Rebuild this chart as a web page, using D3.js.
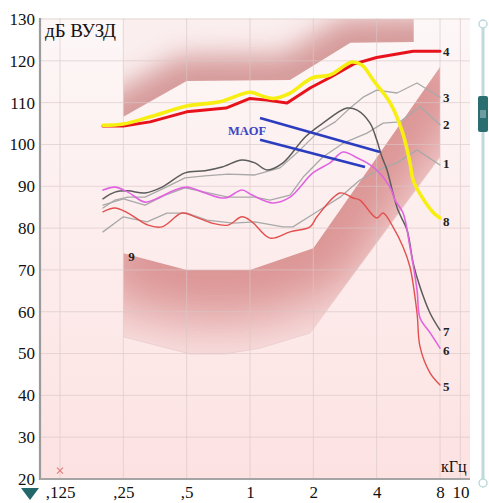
<!DOCTYPE html>
<html>
<head>
<meta charset="utf-8">
<script src="https://cdn.jsdelivr.net/npm/d3@7"></script>
<style>
  html, body { margin: 0; padding: 0; background: #fff; }
  svg { display: block; }
  text { font-family: "Liberation Serif", "Times New Roman", serif; }
</style>
</head>
<body>
<svg id="chart" width="489" height="503"></svg>
<script>
// ---- axis ticks ----
const yTicks = [20, 30, 40, 50, 60, 70, 80, 90, 100, 110, 120, 130];
const xTicks = [0.125, 0.25, 0.5, 1, 2, 4, 8, 10];
const xTickLabels = [",125", ",25", ",5", "1", "2", "4", "8", "10"];

// ---- shaded zones: [kHz, dB] ----
const upperZone = [[0.25, 130], [0.25, 106.6], [0.5, 115.2], [1.55, 115.4], [3.0, 124.3], [6.0, 124.5], [6.0, 130]];
const upperEdge = [[0.2, 104.0], [0.25, 106.6], [0.5, 115.2], [1.55, 115.4], [3.0, 124.3], [6.0, 124.5], [9, 124.5]];
const lowerZone = [[0.25, 74.0], [0.5, 70.0], [1.0, 70.0], [2.0, 75.2], [8, 118.5], [8, 97.0], [1.93, 54.9], [1.12, 51.3], [0.76, 49.9], [0.52, 49.9], [0.25, 54.0]];
const lowerEdge = [[0.2, 75.5], [0.25, 74.0], [0.5, 70.0], [1.0, 70.0], [2.0, 75.2], [8, 118.5], [9, 124]];

// ---- response curves: [kHz, dB] ----
const curve1 = [[0.2, 79.1], [0.25, 82.7], [0.324, 81.5], [0.403, 83.6], [0.502, 83.6], [0.625, 81.9], [0.83, 81.2], [1.056, 81.5], [1.435, 80.3], [1.6, 80.3], [2.08, 83.9], [2.68, 87.4], [3.33, 91.5], [4.29, 94.4], [5.0, 95.6], [6.22, 98.7], [8, 95.1]];
const curve2 = [[0.2, 85.5], [0.25, 87.0], [0.317, 85.5], [0.395, 87.9], [0.491, 89.6], [0.611, 88.6], [0.786, 87.4], [1.056, 87.4], [1.245, 86.7], [1.55, 87.9], [1.79, 92.2], [2.22, 97.0], [2.77, 100.3], [3.6, 102.7], [4.29, 105.1], [5.16, 105.4], [6.43, 109.0], [8, 104.7]];
const curve3 = [[0.2, 84.8], [0.228, 86.7], [0.263, 87.4], [0.317, 87.4], [0.382, 89.3], [0.491, 92.0], [0.611, 92.5], [0.786, 92.9], [1.056, 92.7], [1.389, 94.4], [1.73, 98.7], [2.11, 103.0], [2.54, 105.4], [2.99, 108.7], [3.45, 111.3], [4.0, 113.0], [5.0, 112.3], [6.22, 114.7], [8, 111.3]];
const curve4 = [[0.2, 104.4], [0.25, 104.4], [0.335, 105.4], [0.5, 107.8], [0.769, 108.7], [1.0, 111.0], [1.2, 110.6], [1.5, 109.9], [1.93, 113.5], [2.4, 116.0], [3.1, 119.2], [4.0, 120.8], [5.96, 122.3], [8, 122.3]];
const curve5 = [[0.2, 83.9], [0.228, 84.8], [0.263, 83.6], [0.328, 80.7], [0.382, 80.3], [0.475, 83.6], [0.548, 82.7], [0.66, 81.2], [0.786, 80.7], [0.916, 82.7], [1.022, 81.5], [1.245, 77.6], [1.55, 79.1], [1.93, 80.3], [2.08, 82.7], [2.68, 88.4], [3.09, 87.2], [3.33, 86.7], [4.0, 82.4], [4.29, 83.6], [4.78, 80.3], [5.34, 75.5], [5.76, 70.7], [6.22, 59.7], [6.43, 51.6], [7.17, 45.4], [8, 42.5]];
const curve6 = [[0.2, 89.1], [0.228, 89.8], [0.263, 88.6], [0.317, 86.2], [0.365, 87.2], [0.44, 89.1], [0.502, 89.8], [0.611, 88.4], [0.761, 87.2], [0.916, 89.1], [1.022, 87.9], [1.286, 86.0], [1.55, 87.4], [1.99, 93.2], [2.4, 95.6], [2.77, 98.2], [3.23, 96.8], [3.6, 95.6], [4.0, 93.9], [4.63, 89.8], [4.89, 86.7], [5.34, 83.6], [5.76, 75.5], [6.22, 65.2], [6.43, 58.5], [7.17, 55.0], [8, 51.3]];
const curve7 = [[0.2, 87.0], [0.228, 88.6], [0.263, 88.9], [0.317, 88.4], [0.382, 89.8], [0.491, 93.2], [0.611, 93.7], [0.736, 94.6], [0.916, 96.3], [1.056, 95.6], [1.205, 93.9], [1.435, 95.6], [1.83, 101.8], [2.22, 105.1], [2.89, 108.7], [3.23, 108.2], [3.72, 105.1], [4.0, 101.1], [4.24, 97.0], [4.48, 93.9], [4.78, 88.4], [5.05, 84.3], [5.58, 79.5], [5.96, 71.7], [6.43, 65.9], [7.17, 59.7], [8, 55.6]];
const curve8 = [[0.2, 104.6], [0.25, 104.9], [0.335, 106.6], [0.5, 109.2], [0.72, 110.2], [1.0, 112.5], [1.14, 111.6], [1.29, 111.0], [1.55, 112.3], [1.97, 115.9], [2.4, 116.6], [3.05, 119.7], [3.4, 119.0], [3.9, 115.0], [4.63, 110.0], [5.3, 103.0], [5.76, 95.6], [5.96, 91.5], [6.57, 87.4], [7.41, 83.8], [8, 82.4]];

// ---- MAOF lines ----
const maofUpper = [[1.116, 106.3], [4.15, 98.2]];
const maofLower = [[1.116, 101.1], [3.52, 94.6]];
const noResponseMark = [0.125, 22];

const series = [
  { name: "1", data: curve1, color: "#a9a9a9", width: 1.3, smooth: false },
  { name: "2", data: curve2, color: "#a9a9a9", width: 1.3, smooth: false },
  { name: "3", data: curve3, color: "#a9a9a9", width: 1.3, smooth: false },
  { name: "7", data: curve7, color: "#5c5c5c", width: 1.5, smooth: true },
  { name: "6", data: curve6, color: "#e064e0", width: 1.6, smooth: true },
  { name: "5", data: curve5, color: "#e2504e", width: 1.4, smooth: true },
  { name: "4", data: curve4, color: "#e8121c", width: 3, smooth: false },
  { name: "8", data: curve8, color: "#f7ee12", width: 3.6, smooth: true }
];

const W = 489, H = 503;
const plot = { left: 40, right: 470, top: 18, bottom: 479 };

const x = d3.scaleLog().domain([0.125, 8]).range([60, 440]);
const y = d3.scaleLinear().domain([20, 130]).range([479, 19]);

const svg = d3.select("#chart");
const defs = svg.append("defs");

const bg = defs.append("linearGradient").attr("id", "bgGrad")
  .attr("x1", 0).attr("y1", 0).attr("x2", 0).attr("y2", 1);
bg.append("stop").attr("offset", "0%").attr("stop-color", "#fdf7f7");
bg.append("stop").attr("offset", "100%").attr("stop-color", "#fde2e2");

const lineGen = d3.line().x(d => x(d[0])).y(d => y(d[1]));
const smoothGen = d3.line().x(d => x(d[0])).y(d => y(d[1])).curve(d3.curveCatmullRom.alpha(0.5));

// plot background
svg.append("rect")
  .attr("x", plot.left).attr("y", plot.top)
  .attr("width", plot.right - plot.left).attr("height", plot.bottom - plot.top)
  .attr("fill", "url(#bgGrad)");

// shaded zones: colour strongest along the edge, fading inward
function fadeFilter(id, sd) {
  const f = defs.append("filter").attr("id", id)
    .attr("filterUnits", "userSpaceOnUse")
    .attr("x", -50).attr("y", -50).attr("width", W + 100).attr("height", H + 100);
  f.append("feGaussianBlur").attr("stdDeviation", sd);
}
fadeFilter("fadeUpper", 13);
fadeFilter("fadeLower", 28);

defs.append("clipPath").attr("id", "clipUpper")
  .append("path").attr("d", lineGen(upperZone) + "Z");
defs.append("clipPath").attr("id", "clipLower")
  .append("path").attr("d", lineGen(lowerZone) + "Z");

const zones = svg.append("g");
const gU = zones.append("g").attr("clip-path", "url(#clipUpper)");
gU.append("path").attr("d", lineGen(upperZone) + "Z")
  .attr("fill", "#fbeeee");
gU.append("path").attr("d", lineGen(upperEdge))
  .attr("fill", "none").attr("stroke", "#cd8686").attr("stroke-width", 50)
  .attr("opacity", 0.8).attr("filter", "url(#fadeUpper)");

const gL = zones.append("g").attr("clip-path", "url(#clipLower)");
gL.append("path").attr("d", lineGen(lowerZone) + "Z")
  .attr("fill", "#f8dede").attr("opacity", 0.6);
gL.append("path").attr("d", lineGen(lowerEdge))
  .attr("fill", "none").attr("stroke", "#d27c7c").attr("stroke-width", 100)
  .attr("opacity", 0.78).attr("filter", "url(#fadeLower)");
zones.append("path").attr("d", lineGen(lowerZone.slice(5)))
  .attr("fill", "none").attr("stroke", "#e8cccc").attr("stroke-width", 0.8);

// grid
const grid = svg.append("g").attr("stroke", "#d9c6c6").attr("stroke-width", 0.8).attr("opacity", 0.8);
grid.selectAll("line.h").data(yTicks).join("line")
  .attr("x1", plot.left).attr("x2", plot.right)
  .attr("y1", d => y(d)).attr("y2", d => y(d));
grid.selectAll("line.v").data(xTicks).join("line")
  .attr("x1", d => x(d)).attr("x2", d => x(d))
  .attr("y1", plot.top).attr("y2", plot.bottom);

// axes
const yAxis = svg.append("g").attr("transform", `translate(${plot.left},0)`)
  .call(d3.axisLeft(y).tickValues(yTicks).tickSize(0).tickPadding(5).tickFormat(d3.format("d")));
yAxis.select(".domain").remove();
yAxis.selectAll("text").attr("font-size", 17).attr("fill", "#111");

const xAxis = svg.append("g").attr("transform", `translate(0,${plot.bottom})`)
  .call(d3.axisBottom(x).tickValues(xTicks).tickSize(0).tickPadding(7)
    .tickFormat((d, i) => xTickLabels[i]));
xAxis.select(".domain").remove();
xAxis.selectAll("text").attr("font-size", 17).attr("fill", "#111");

svg.append("line").attr("x1", plot.left).attr("x2", plot.left)
  .attr("y1", plot.top).attr("y2", plot.bottom + 1)
  .attr("stroke", "#9b9b9b").attr("stroke-width", 2.2);
svg.append("line").attr("x1", plot.left).attr("x2", plot.right)
  .attr("y1", plot.bottom).attr("y2", plot.bottom)
  .attr("stroke", "#a5a5a5").attr("stroke-width", 2);

// curves
const curves = svg.append("g").attr("fill", "none")
  .attr("stroke-linejoin", "round").attr("stroke-linecap", "round");
series.forEach(s => {
  curves.append("path")
    .attr("d", (s.smooth ? smoothGen : lineGen)(s.data))
    .attr("stroke", s.color).attr("stroke-width", s.width);
});

// MAOF
[maofUpper, maofLower].forEach(seg => {
  svg.append("path").attr("d", lineGen(seg))
    .attr("fill", "none").attr("stroke", "#2b3cbf").attr("stroke-width", 2.6);
});
svg.append("text").attr("x", x(maofUpper[0][0]) - 32).attr("y", y(maofUpper[0][1]) + 17)
  .attr("font-size", 12.5).attr("font-weight", "bold").attr("fill", "#3a45c4")
  .text("MAOF");

// curve labels at the 8 kHz end
const labelOffsets = { "1": -1, "2": 0, "3": 0, "4": 0, "5": 2, "6": 2, "7": 1, "8": 3 };
series.forEach(s => {
  const last = s.data[s.data.length - 1];
  svg.append("text")
    .attr("x", x(last[0]) + 3).attr("y", y(last[1]) + labelOffsets[s.name])
    .attr("dominant-baseline", "central")
    .attr("font-size", 13).attr("font-weight", "bold").attr("fill", "#222")
    .text(s.name);
});
svg.append("text").attr("x", x(0.25) + 5).attr("y", y(74.0) + 8)
  .attr("font-size", 13).attr("font-weight", "bold").attr("fill", "#222").text("9");

// titles
svg.append("text").attr("x", 45).attr("y", 37).attr("font-size", 19).attr("fill", "#111").text("дБ ВУЗД");
svg.append("text").attr("x", 441).attr("y", 472).attr("font-size", 16).attr("fill", "#111").text("кГц");

// no-response marker
const mx = x(noResponseMark[0]), my = y(noResponseMark[1]);
svg.append("path")
  .attr("d", `M${mx - 3},${my - 3}L${mx + 3},${my + 3}M${mx + 3},${my - 3}L${mx - 3},${my + 3}`)
  .attr("stroke", "#e07a7a").attr("stroke-width", 1.1);

// frequency marker triangle
svg.append("path").attr("d", "M21,488L39,488L30,500Z").attr("fill", "#23676b");

// zoom slider
const slider = svg.append("g");
slider.append("line").attr("x1", 483).attr("x2", 483).attr("y1", 24).attr("y2", 483)
  .attr("stroke", "#bfd9dc").attr("stroke-width", 3);
[24, 483].forEach(cy => slider.append("circle").attr("cx", 483).attr("cy", cy).attr("r", 4)
  .attr("fill", "#fff").attr("stroke", "#bfd9dc").attr("stroke-width", 1.5));
slider.append("rect").attr("x", 478).attr("y", 96).attr("width", 10).attr("height", 36)
  .attr("rx", 2).attr("fill", "#2b6e72");
[-2, 0, 2].forEach(dx => slider.append("line")
  .attr("x1", 483 + dx).attr("x2", 483 + dx).attr("y1", 110).attr("y2", 118)
  .attr("stroke", "#cfe6e8").attr("stroke-width", 0.8));
</script>
</body>
</html>
